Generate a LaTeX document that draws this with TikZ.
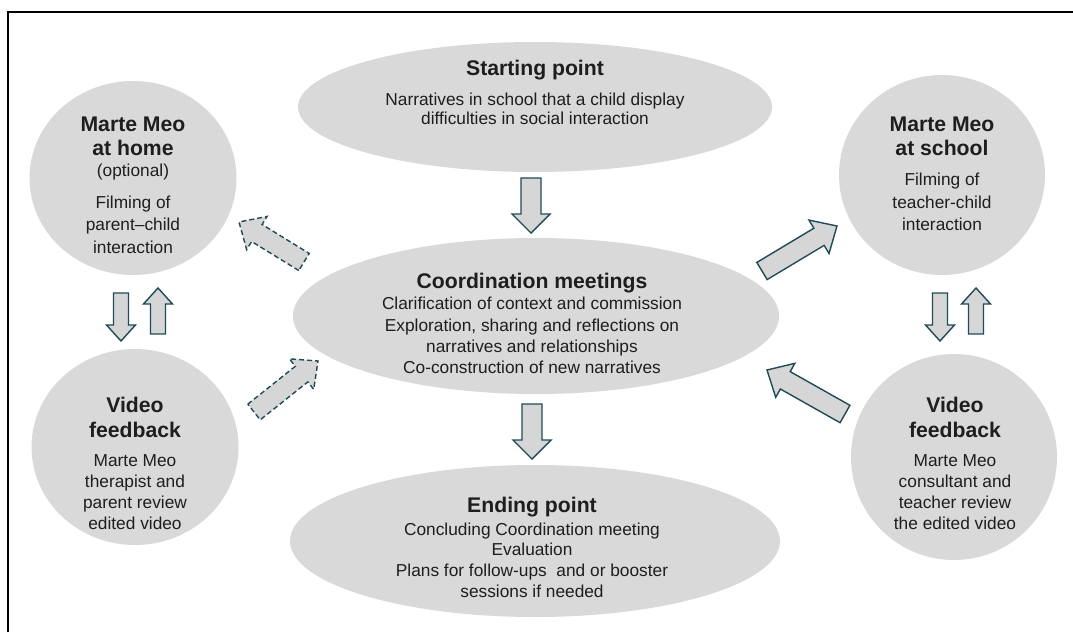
\documentclass[tikz,border=0pt]{standalone}
\usepackage{fontspec}
\setmainfont{Liberation Sans}
\usetikzlibrary{calc,shapes.geometric}

\definecolor{bubblegray}{HTML}{D9D9D9}
\definecolor{arrowline}{HTML}{1F4A57}
\definecolor{arrowfill}{HTML}{D6D6D6}
\definecolor{ink}{HTML}{1E1E1E}

\tikzset{
  bubble/.style={ellipse, fill=bubblegray, draw=none, inner sep=0pt},
  ttl/.style={font=\fontsize{21.2}{24}\selectfont\bfseries, anchor=base, inner sep=0pt, text=ink},
  txt/.style={font=\fontsize{17.3}{20}\selectfont, anchor=base, inner sep=0pt, text=ink},
  solidarrow/.style={draw=arrowline, fill=arrowfill, line width=1.4pt, line join=miter},
  dasharrow/.style={solidarrow, dash pattern=on 5pt off 3pt},
}

% block arrow: style, tail, tip, shaft half width, head half width, head length
\newcommand{\blockarrow}[6]{%
  \coordinate (hb) at ($(#3)!#6!(#2)$);
  \draw[#1] ($(#2)!#4!90:(#3)$) -- ($(hb)!#4!90:(#3)$) -- ($(hb)!#5!90:(#3)$)
    -- (#3) -- ($(hb)!#5!-90:(#3)$) -- ($(hb)!#4!-90:(#3)$)
    -- ($(#2)!#4!-90:(#3)$) -- cycle;
}

\begin{document}
\begin{tikzpicture}[x=1pt, y=-1pt]
\useasboundingbox (0,0) rectangle (1073,632);
\fill[white] (0,0) rectangle (1073,632);

% frame
\draw[line width=1.3pt] (8,632) -- (8,12) -- (1073,12);

% bubbles
\node[bubble, minimum width=474pt, minimum height=130pt] (start) at (535,107) {};
\node[bubble, minimum width=486pt, minimum height=156pt] (coord) at (536,316) {};
\node[bubble, minimum width=490pt, minimum height=152pt] (ending) at (535,541) {};
\node[bubble, minimum width=207pt, minimum height=194pt] (home) at (133,178) {};
\node[bubble, minimum width=207pt, minimum height=196pt] (vfl) at (135,447) {};
\node[bubble, minimum width=206pt, minimum height=200pt] (school) at (942,175) {};
\node[bubble, minimum width=206pt, minimum height=206pt] (vfr) at (954,457) {};

% Starting point
\node[ttl] (start-t) at (535,75) {Starting point};
\node[txt] (start-1) at (535,105) {Narratives in school that a child display};
\node[txt] (start-2) at (535,124) {difficulties in social interaction};

% Coordination meetings
\node[ttl] (coord-t) at (532,288) {Coordination meetings};
\node[txt] (coord-1) at (532,309) {Clarification of context and commission};
\node[txt] (coord-2) at (532,331) {Exploration, sharing and reflections on};
\node[txt] (coord-3) at (532,352) {narratives and relationships};
\node[txt] (coord-4) at (532,373) {Co-construction of new narratives};

% Ending point
\node[ttl] (end-t) at (532,512) {Ending point};
\node[txt] (end-1) at (532,535) {Concluding Coordination meeting};
\node[txt] (end-2) at (532,555) {Evaluation};
\node[txt] (end-3) at (532,576) {Plans for follow-ups\ \ and or booster};
\node[txt] (end-4) at (532,597) {sessions if needed};

% Marte Meo at home
\node[ttl] (home-t1) at (133,131) {Marte Meo};
\node[ttl] (home-t2) at (133,155) {at home};
\node[txt] (home-1) at (133,176) {(optional)};
\node[txt] (home-2) at (133,208) {Filming of};
\node[txt] (home-3) at (133,230) {parent–child};
\node[txt] (home-4) at (133,253) {interaction};

% Video feedback, home side
\node[ttl] (vfl-t1) at (135,412) {Video};
\node[ttl] (vfl-t2) at (135,437) {feedback};
\node[txt] (vfl-1) at (135,466) {Marte Meo};
\node[txt] (vfl-2) at (135,487) {therapist and};
\node[txt] (vfl-3) at (135,508) {parent review};
\node[txt] (vfl-4) at (135,529) {edited video};

% Marte Meo at school
\node[ttl] (school-t1) at (942,131) {Marte Meo};
\node[ttl] (school-t2) at (942,155) {at school};
\node[txt] (school-1) at (942,185) {Filming of};
\node[txt] (school-2) at (942,208) {teacher-child};
\node[txt] (school-3) at (942,230) {interaction};

% Video feedback, school side
\node[ttl] (vfr-t1) at (955,412) {Video};
\node[ttl] (vfr-t2) at (955,437) {feedback};
\node[txt] (vfr-1) at (955,466) {Marte Meo};
\node[txt] (vfr-2) at (955,487) {consultant and};
\node[txt] (vfr-3) at (955,508) {teacher review};
\node[txt] (vfr-4) at (955,529) {the edited video};

% arrow end points
\coordinate (a1t) at (531,178);  \coordinate (a1h) at (531,233);
\coordinate (a2t) at (532,404);  \coordinate (a2h) at (532,459);
\coordinate (a3t) at (121,293);  \coordinate (a3h) at (121,341);
\coordinate (a4t) at (158,334);  \coordinate (a4h) at (158,288);
\coordinate (a5t) at (940,293);  \coordinate (a5h) at (940,341);
\coordinate (a6t) at (976,334);  \coordinate (a6h) at (976,288);
\coordinate (a7t) at (304,262);  \coordinate (a7h) at (239,222);
\coordinate (a8t) at (254,412);  \coordinate (a8h) at (318,361);
\coordinate (a9t) at (762,271);  \coordinate (a9h) at (837,226);
\coordinate (a10t) at (845,414); \coordinate (a10h) at (767,370);

% vertical arrows
\blockarrow{solidarrow}{a1t}{a1h}{10pt}{19pt}{19pt}
\blockarrow{solidarrow}{a2t}{a2h}{10pt}{19pt}{19pt}
\blockarrow{solidarrow}{a3t}{a3h}{7.5pt}{14.5pt}{16pt}
\blockarrow{solidarrow}{a4t}{a4h}{7.5pt}{14.5pt}{16pt}
\blockarrow{solidarrow}{a5t}{a5h}{7.5pt}{14.5pt}{16pt}
\blockarrow{solidarrow}{a6t}{a6h}{7.5pt}{14.5pt}{16pt}

% diagonal arrows
\blockarrow{dasharrow}{a7t}{a7h}{10pt}{19.5pt}{21pt}
\blockarrow{dasharrow}{a8t}{a8h}{10pt}{19.5pt}{21pt}
\blockarrow{solidarrow}{a9t}{a9h}{10pt}{19.5pt}{21pt}
\blockarrow{solidarrow}{a10t}{a10h}{10pt}{19.5pt}{21pt}
\end{tikzpicture}
\end{document}
